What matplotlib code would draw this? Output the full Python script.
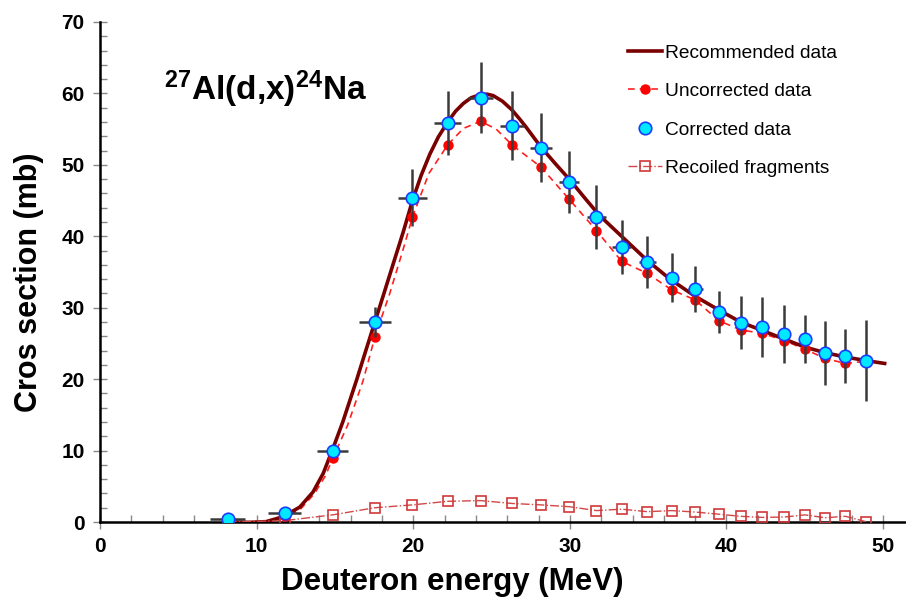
# Recreación del gráfico 27Al(d,x)24Na
import matplotlib.pyplot as plt
from matplotlib.ticker import MultipleLocator

plt.rcParams['font.family'] = 'Liberation Sans'
plt.rcParams['mathtext.fontset'] = 'custom'
plt.rcParams['mathtext.rm'] = 'Liberation Sans'
plt.rcParams['mathtext.bf'] = 'Liberation Sans:bold'

# Curva recomendada
rec_x = [8.5, 9.5, 10.6, 11.7, 12.76, 13.6, 14.25, 14.84, 15.5, 16.4, 17.0, 17.55, 18.1,
         18.7, 19.36, 19.95, 20.5, 21.06, 21.6, 22.2, 22.7, 23.2, 23.7, 24.25, 24.7,
         25.1, 25.7, 26.3, 26.8, 27.2, 28.15, 29.1, 30.0,
         31.05, 31.9, 33.4, 34.95, 36.4, 38.0, 39.5, 40.9, 42.3, 43.7, 45.0, 46.3,
         47.6, 48.9, 50.1]
rec_y = [0.0, -0.05, 0.05, 0.75, 2.1, 4.2, 6.8, 10.1, 14.0, 20.0, 24.2, 28.0, 31.8,
         36.0, 40.6, 45.0, 48.5, 51.5, 53.9, 56.0, 57.5, 58.6, 59.4, 59.8, 59.9,
         59.7, 58.9, 57.7, 56.4, 55.3, 52.5, 50.1, 47.9,
         45.1, 42.9, 39.8, 36.6, 34.0, 31.6, 29.7, 28.0, 26.8, 25.6, 24.5, 23.7,
         23.1, 22.6, 22.2]

# Energías de los puntos experimentales
energy = [8.15, 11.8, 14.85, 17.55, 19.95, 22.2, 24.3, 26.3, 28.15, 29.95, 31.7, 33.3,
          34.95, 36.5, 38.0, 39.5, 40.9, 42.3, 43.7, 45.0, 46.3, 47.6, 48.9]

# Datos corregidos y errores
corr_y = [0.4, 1.2, 10.0, 28.0, 45.4, 55.9, 59.4, 55.5, 52.4, 47.6, 42.7, 38.5,
          36.4, 34.2, 32.6, 29.4, 27.9, 27.3, 26.3, 25.6, 23.7, 23.2, 22.6]
corr_yerr = [0.3, 0.3, 0.8, 2.1, 4.0, 4.5, 5.0, 4.8, 4.8, 4.4, 4.5, 3.8,
             3.6, 3.4, 3.2, 3.0, 3.7, 4.2, 4.1, 3.4, 4.45, 3.8, 5.7]
corr_xerr = [1.1, 1.06, 1.0, 1.0, 0.9, 0.85, 0.8, 0.75, 0.72, 0.64, 0.6, 0.58,
             0.55, 0.43, 0.48, 0.37, 0.43, 0.4, 0.35, 0.34, 0.3, 0.3, 0.3]

# Datos sin corregir
uncorr_y = [0.3, 0.9, 8.9, 25.9, 42.7, 52.8, 56.1, 52.8, 49.7, 45.2, 40.8, 36.5,
            34.8, 32.5, 31.1, 28.2, 26.9, 26.4, 25.4, 24.2, 22.9, 22.2, 22.4]
uncorr_line_x = [8.5, 10.6, 11.8, 12.8, 13.7, 14.4, 14.85, 15.8, 16.8, 17.55, 18.5, 19.4,
                 19.95, 21.0, 22.2, 23.2, 24.3, 25.3, 26.3, 28.15, 29.95, 31.7, 33.3,
                 34.95, 36.5, 38.0, 39.5, 40.9, 42.3, 43.7, 45.0, 46.3, 47.6, 48.9]
uncorr_line_y = [0.0, 0.0, 0.6, 1.8, 4.0, 6.5, 8.9, 13.5, 19.8, 25.9, 32.0, 38.5,
                 42.7, 48.8, 52.8, 55.1, 56.1, 55.0, 52.8, 49.7, 45.2, 40.8, 36.5,
                 34.8, 32.5, 31.1, 28.2, 26.9, 26.4, 25.4, 24.2, 22.9, 22.2, 22.5]

# Fragmentos de retroceso
recoil_y = [0.0, 0.2, 1.0, 2.0, 2.4, 2.9, 3.0, 2.6, 2.4, 2.15, 1.6, 1.8,
            1.45, 1.6, 1.4, 1.1, 0.8, 0.65, 0.7, 1.0, 0.6, 0.8, 0.05]

fig = plt.figure(figsize=(9.06, 6.01), dpi=100)
ax = fig.add_axes([0.1104, 0.1314, 0.8885, 0.832])

# Curvas
ax.plot(rec_x, rec_y, color='#7a0000', lw=2.6, zorder=3, label='Recommended data')
ax.plot(uncorr_line_x, uncorr_line_y, color='#ff2020', lw=1.2, ls=(0, (4, 3)), zorder=2)
ax.plot(energy, uncorr_y, 'o', color='#ff0000', ms=6.5, zorder=4)
ax.plot([], [], color='#ff2020', lw=1.2, ls=(0, (4, 3)), marker='o', ms=6.5,
        mfc='#ff0000', mec='#ff0000', label='Uncorrected data')

# Barras de error y datos corregidos
ax.errorbar(energy, corr_y, yerr=corr_yerr, xerr=corr_xerr, fmt='none',
            ecolor='#3a3a3a', elinewidth=1.8, capsize=0, zorder=5)
ax.plot(energy, corr_y, 'o', ms=9, mfc='#00e8ff', mec='#1a3cff', mew=1.2,
        ls='none', zorder=6, label='Corrected data')

ax.plot(energy, recoil_y, color='#d04848', lw=1.0, ls='-.', marker='s', ms=6.5,
        mfc='none', mec='#d03838', mew=1.2, zorder=3, label='Recoiled fragments')

# Título dentro del gráfico
ax.text(10.6, 60.6, r'$\mathbf{^{27}Al(d{,}x)^{24}Na}$', fontsize=24,
        ha='center', va='center')

ax.set_xlim(0, 51.4)
ax.set_ylim(0, 70)
ax.xaxis.set_major_locator(MultipleLocator(10))
ax.xaxis.set_minor_locator(MultipleLocator(2))
ax.yaxis.set_major_locator(MultipleLocator(10))
ax.yaxis.set_minor_locator(MultipleLocator(2))
ax.tick_params(which='major', direction='inout', length=10, width=1, color='#888888',
               labelsize=15, pad=6)
ax.tick_params(which='minor', direction='in', length=5, width=1, color='#888888')
for lab in ax.get_xticklabels() + ax.get_yticklabels():
    lab.set_fontweight('bold')

ax.spines['top'].set_visible(False)
ax.spines['right'].set_visible(False)
ax.spines['left'].set_linewidth(1.8)
ax.spines['bottom'].set_linewidth(1.8)

ax.set_xlabel('Deuteron energy (MeV)', fontsize=22.5, fontweight='bold')
ax.xaxis.set_label_coords(0.437, -0.09)
ax.set_ylabel('Cros section (mb)', fontsize=22, fontweight='bold')
ax.yaxis.set_label_coords(-0.069, 0.48)

ax.legend(loc='upper left', bbox_to_anchor=(0.634, 0.99), frameon=False, fontsize=13.8,
          handlelength=1.8, handletextpad=0.15, labelspacing=1.1)

fig.savefig('out.png', dpi=100)
